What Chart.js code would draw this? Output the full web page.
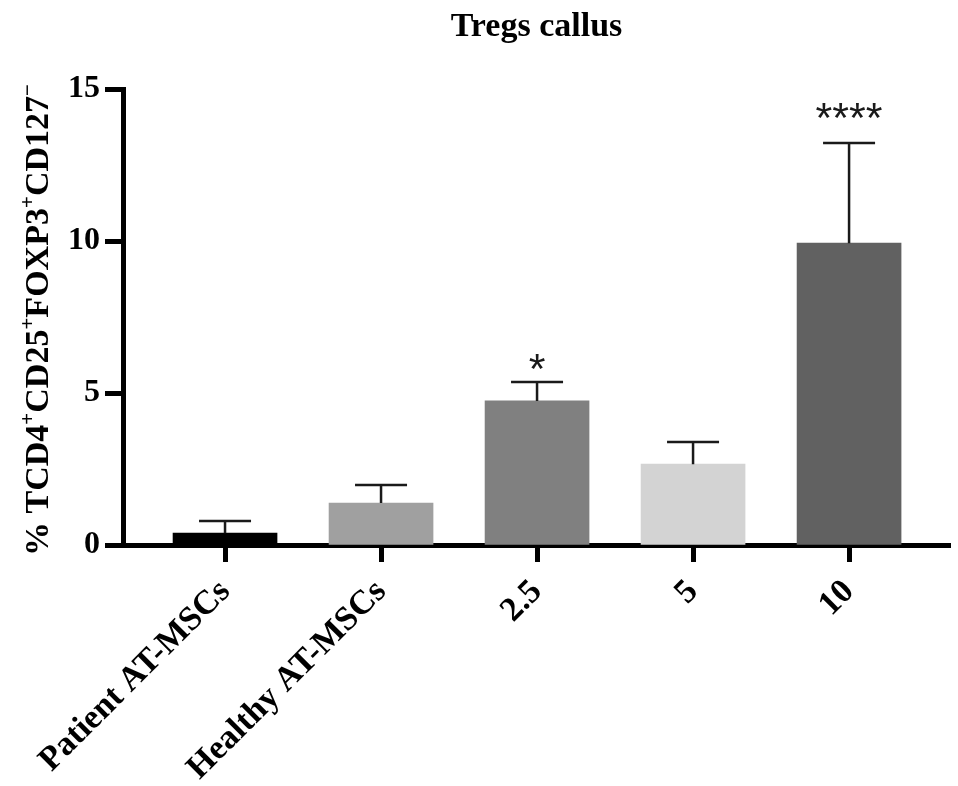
<!DOCTYPE html>
<html>
<head>
<meta charset="utf-8">
<title>Tregs callus</title>
<script src="https://cdn.jsdelivr.net/npm/chart.js@4.4.1/dist/chart.umd.min.js"></script>
<style>
    html, body { margin: 0; padding: 0; background: #ffffff; }
    canvas { display: block; }
</style>
</head>
<body>
<canvas id="tregsChart" width="958" height="786"></canvas>
<script>
// values
const categories = ['Patient AT-MSCs', 'Healthy AT-MSCs', '2.5', '5', '10'];
const means = [0.39, 1.38, 4.74, 2.66, 9.93];
const sem = [0.40, 0.59, 0.62, 0.73, 3.29];
const barColors = ['#000000', '#a0a0a0', '#808080', '#d3d3d3', '#616161'];
const stars = ['', '', '*', '', '****'];
const starLevels = [null, null, 6.02, null, 14.28];
const yTicks = [0, 5, 10, 15];

const serif = '"Liberation Serif", "Times New Roman", serif';

// error bars (upper SEM only) + significance stars
const errorBars = {
    id: 'errorBars',
    afterDatasetsDraw(chart) {
        const ctx = chart.ctx;
        const x = chart.scales.x;
        const y = chart.scales.y;
        ctx.save();
        ctx.strokeStyle = '#1a1a1a';
        ctx.lineWidth = 2.5;
        means.forEach((m, i) => {
            const px = x.getPixelForValue(i);
            const top = y.getPixelForValue(m + sem[i]);
            ctx.beginPath();
            ctx.moveTo(px, y.getPixelForValue(m));
            ctx.lineTo(px, top);
            ctx.moveTo(px - 26, top);
            ctx.lineTo(px + 26, top);
            ctx.stroke();
        });
        ctx.font = '43px "Liberation Sans", Arial, sans-serif';
        ctx.fillStyle = '#1a1a1a';
        ctx.textAlign = 'center';
        ctx.textBaseline = 'alphabetic';
        stars.forEach((s, i) => {
            if (!s) return;
            const m = ctx.measureText(s);
            const mid = (m.actualBoundingBoxAscent - m.actualBoundingBoxDescent) / 2;
            ctx.fillText(s, x.getPixelForValue(i), y.getPixelForValue(starLevels[i]) + mid);
        });
        ctx.restore();
    }
};

// y axis title with superscripts
const yTitle = {
    id: 'yTitle',
    afterDraw(chart) {
        const ctx = chart.ctx;
        const size = 34;
        const parts = [['% TCD4', 0], ['+', 1], ['CD25', 0], ['+', 1], ['FOXP3', 0], ['+', 1], ['CD127', 0], ['\u2212', 1]];
        const fontFor = sup => 'bold ' + (sup ? Math.round(size * 0.62) : size) + 'px ' + serif;
        let total = 0;
        parts.forEach(([t, sup]) => { ctx.font = fontFor(sup); total += ctx.measureText(t).width; });
        const area = chart.chartArea;
        ctx.save();
        ctx.translate(48, (area.top + area.bottom) / 2 + 3);
        ctx.rotate(-Math.PI / 2);
        ctx.fillStyle = '#000';
        ctx.textBaseline = 'alphabetic';
        ctx.textAlign = 'left';
        let cx = -total / 2;
        parts.forEach(([t, sup]) => {
            ctx.font = fontFor(sup);
            ctx.fillText(t, cx, sup ? -size * 0.42 : 0);
            cx += ctx.measureText(t).width;
        });
        ctx.restore();
    }
};

new Chart(document.getElementById('tregsChart'), {
    type: 'bar',
    data: {
        datasets: [{
            data: means.map((v, i) => ({ x: i, y: v })),
            backgroundColor: barColors,
            borderWidth: 0,
            barThickness: 104
        }]
    },
    options: {
        responsive: false,
        animation: false,
        layout: { padding: { top: 0, right: 8, bottom: 0, left: 0 } },
        plugins: {
            legend: { display: false },
            tooltip: { enabled: false },
            title: {
                display: true,
                text: 'Tregs callus',
                fullSize: false,
                color: '#000',
                font: { family: serif, size: 34, weight: 'bold', lineHeight: 1.2 },
                padding: { top: 7, bottom: 41.2 }
            }
        },
        scales: {
            x: {
                type: 'linear',
                offset: false,
                min: -0.654,
                max: 4.647,
                afterFit: s => { s.height = 241; },
                afterBuildTicks: s => { s.ticks = categories.map((c, i) => ({ value: i })); },
                grid: { offset: false, drawOnChartArea: false, tickLength: 17, tickWidth: 5, tickColor: '#000' },
                border: { display: true, width: 5, color: '#000' },
                ticks: {
                    autoSkip: false,
                    minRotation: 45,
                    maxRotation: 45,
                    padding: 10,
                    color: '#000',
                    font: { family: serif, size: 34, weight: 'bold' },
                    callback: v => categories[v]
                }
            },
            y: {
                min: 0,
                max: 15,
                afterFit: s => { s.width = 123; },
                afterBuildTicks: s => { s.ticks = yTicks.map(v => ({ value: v })); },
                grid: { drawOnChartArea: false, tickLength: 18, tickWidth: 5, tickColor: '#000' },
                border: { display: true, width: 5, color: '#000' },
                ticks: {
                    padding: 5,
                    color: '#000',
                    font: { family: serif, size: 32, weight: 'bold' }
                }
            }
        }
    },
    plugins: [errorBars, yTitle]
});
</script>
</body>
</html>
